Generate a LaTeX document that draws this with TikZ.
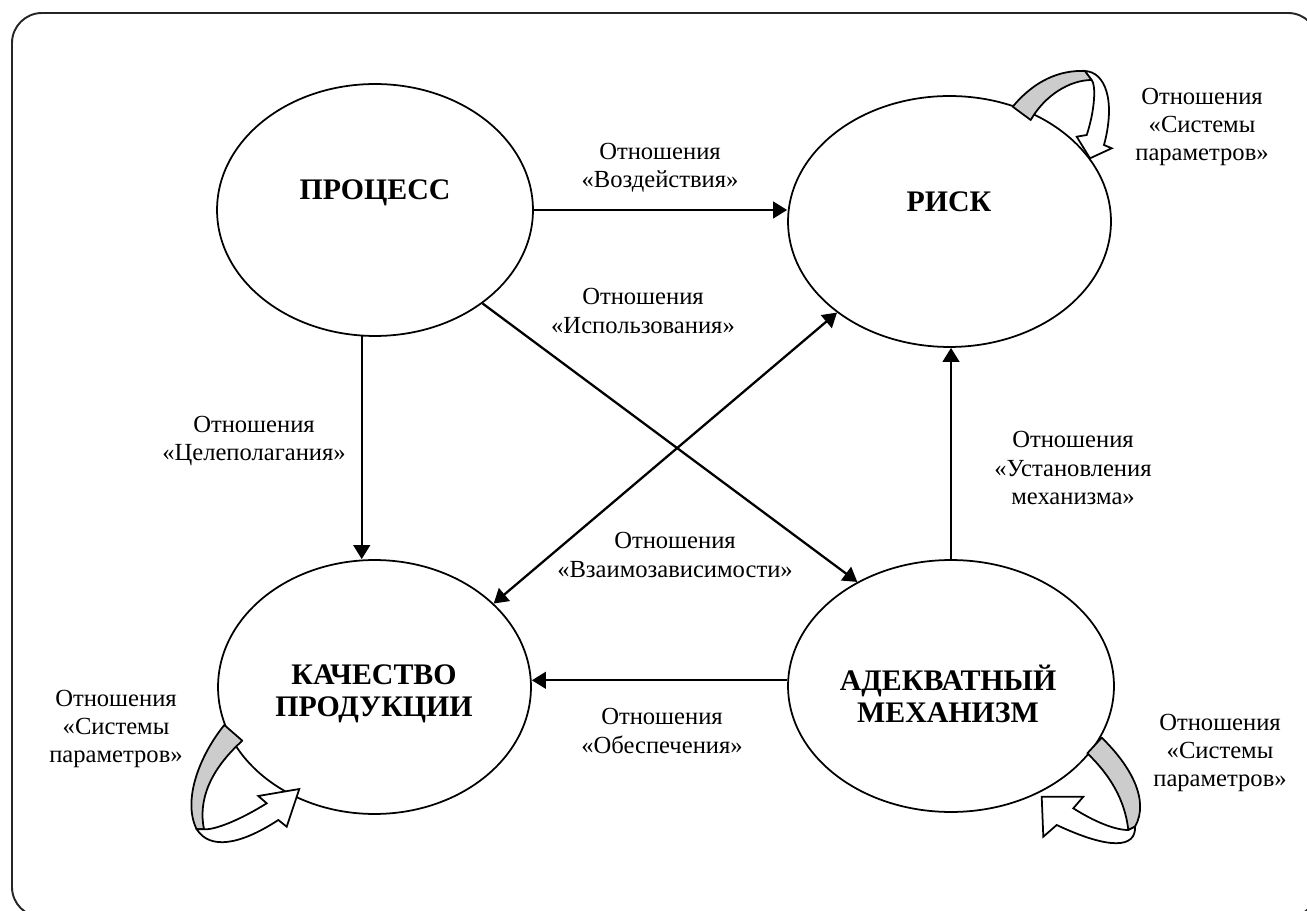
\documentclass[tikz,border=0pt]{standalone}
\usepackage{fontspec}
\setmainfont{Liberation Serif}
\usetikzlibrary{arrows.meta,shapes.geometric}
\tikzset{>={Triangle[length=8pt,width=9.5pt]},
         state/.style={ellipse,draw,line width=1pt,inner sep=0pt},
         statetext/.style={font=\fontsize{17}{18.4}\selectfont\bfseries,align=center,inner sep=0pt},
         rel/.style={font=\fontsize{14}{16.1}\selectfont,align=center,inner sep=0pt},
         link/.style={->,line width=1.3pt},
         loopback/.style={draw,fill=gray!40,line width=1pt,line join=round},
         loopfront/.style={draw,fill=white,line width=1pt,line join=miter}}

\begin{document}
\begin{tikzpicture}[x=0.02cm,y=-0.02cm]

	\useasboundingbox (0,0) rectangle (1307,911);
	\draw[black!85,line width=1.1pt,rounded corners=0.6cm] (12,13) rectangle (1318,917);

	% states
	\node[state,minimum width=6.32cm,minimum height=5.04cm] (proc) at (375,210) {};
	\node[state,minimum width=6.46cm,minimum height=5.02cm] (risk) at (949.5,221.5) {};
	\node[state,minimum width=6.26cm,minimum height=5.08cm] (qual) at (374.5,687) {};
	\node[state,minimum width=6.52cm,minimum height=5.04cm] (mech) at (951,686) {};

	\node[statetext] (proctext) at (375,193) {ПРОЦЕСС};
	\node[statetext] (risktext) at (949,202) {РИСК};
	\node[statetext] (qualtext) at (374,694) {КАЧЕСТВО\\ПРОДУКЦИИ};
	\node[statetext] (mechtext) at (948,694) {АДЕКВАТНЫЙ\\МЕХАНИЗМ};

	% relations
	\draw[link] (proc.east) -- (proc.east -| risk.west);
	\draw[link] (proc.264) -- (proc.264 |- qual.north);
	\draw[link] (proc.319) -- (mech.132);
	\draw[link,<->] (risk.219) -- (qual.35);
	\draw[link] (mech.north) -- (mech.north |- risk.south);
	\draw[link] (mech.178) -- (mech.178 -| qual.east);

	\node[rel] (impact) at (660,168) {Отношения\\«Воздействия»};
	\node[rel] (usage) at (643,311) {Отношения\\«Использования»};
	\node[rel] (goal) at (254,441) {Отношения\\«Целеполагания»};
	\node[rel] (mutual) at (675,555) {Отношения\\«Взаимозависимости»};
	\node[rel] (setup) at (1073,468) {Отношения\\«Установления\\механизма»};
	\node[rel] (supply) at (662,731) {Отношения\\«Обеспечения»};

	% self relations
	\draw[loopback] (1012.7,106.7) .. controls (1035,80) and (1060,70) .. (1085,71)
		-- (1091.7,80) .. controls (1070,80) and (1045,95) .. (1030.7,120) -- cycle;
	\draw[loopfront] (1085,71) .. controls (1105,72) and (1116,100) .. (1104,145)
		-- (1111.7,148.3) -- (1090,158.3) -- (1076.7,136.7) -- (1086.7,135)
		.. controls (1095,110) and (1096,85) .. (1091.7,80) -- cycle;
	\node[rel] (riskself) at (1202,127) {Отношения\\«Системы\\параметров»};

	\draw[loopback] (224.3,725) .. controls (200,755) and (182,800) .. (196.7,829.3)
		-- (204,829.3) .. controls (198,800) and (210,770) .. (242.3,740.7) -- cycle;
	\draw[loopfront] (196.7,829.3) .. controls (210,850) and (240,845) .. (278.3,820)
		-- (286.7,826.7) -- (299.3,789) -- (258.3,796) -- (266.7,803.3)
		.. controls (240,820) and (215,830) .. (204,829.3) -- cycle;
	\node[rel] (qualself) at (116,729) {Отношения\\«Системы\\параметров»};

	\draw[loopback] (1101.7,737.7) .. controls (1130,765) and (1150,800) .. (1135,826.7)
		-- (1128.3,830) .. controls (1125,800) and (1110,775) .. (1087.3,753.3) -- cycle;
	\draw[loopfront] (1135,826.7) .. controls (1136,848) and (1110,850) .. (1056.7,825)
		-- (1043.3,836.7) -- (1041.7,796.7) -- (1083.3,796.7) -- (1073.3,808.3)
		.. controls (1095,822) and (1115,830) .. (1128.3,830) -- cycle;
	\node[rel] (mechself) at (1220,753) {Отношения\\«Системы\\параметров»};

\end{tikzpicture}
\end{document}
